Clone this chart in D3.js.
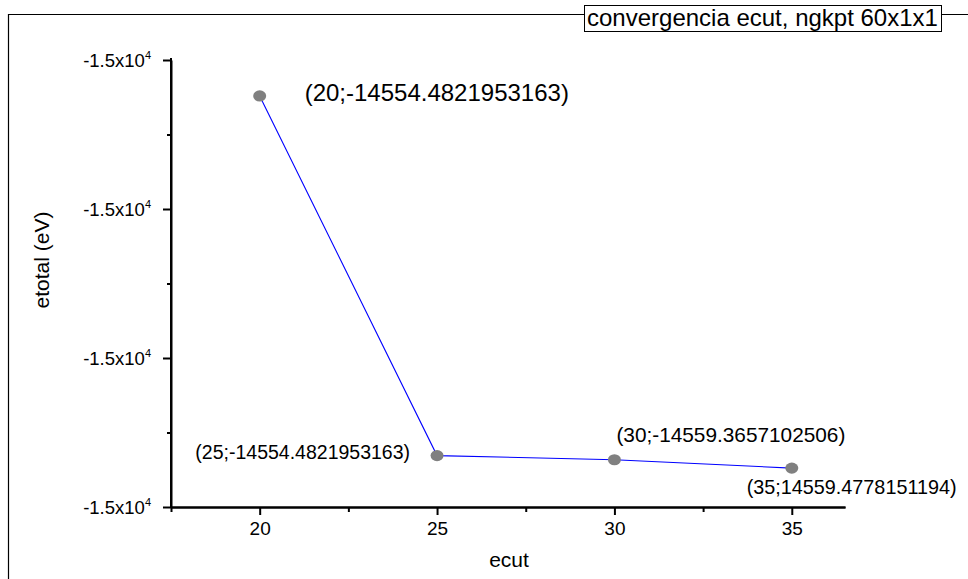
<!DOCTYPE html>
<html>
<head>
<meta charset="utf-8">
<script src="https://cdn.jsdelivr.net/npm/d3@7"></script>
<style>
  html, body { margin: 0; padding: 0; background: #fff; }
  svg { display: block; font-family: "Liberation Sans", Arial, sans-serif; }
</style>
</head>
<body>
<svg id="chart" width="968" height="579"></svg>
<script>
// ---- data ----
const ecut = [20, 25, 30, 35];
const etotal = [-14554.4822, -14559.31, -14559.3657, -14559.4778];
const pointLabels = [
  "(20;-14554.4821953163)",
  "(25;-14554.4821953163)",
  "(30;-14559.3657102506)",
  "(35;14559.4778151194)"
];
const xTicks = [20, 25, 30, 35];
const xMinorTicks = [17.5, 22.5, 27.5, 32.5];
const yTicks = [-14560, -14558, -14556, -14554];
const yMinorTicks = [-14559, -14557, -14555];
const yTickLabel = ["-1.5x10", "4"];
const legendText = "convergencia ecut, ngkpt 60x1x1";
const xTitle = "ecut";
const yTitle = "etotal (eV)";

// ---- layout ----
const svg = d3.select("#chart");
const x = d3.scaleLinear().domain([17.5, 36.5]).range([171, 845]);
const y = d3.scaleLinear().domain([-14560, -14554]).range([507, 60]);

// outer frame
svg.append("path")
  .attr("d", "M8.5,590 L8.5,14.5 L975,14.5")
  .attr("fill", "none").attr("stroke", "#000").attr("stroke-width", 1.2);

// legend box
svg.append("rect").attr("x", 584.5).attr("y", 5.5).attr("width", 357).attr("height", 26)
  .attr("fill", "#fff").attr("stroke", "#000").attr("stroke-width", 1);
svg.append("text").attr("x", 587).attr("y", 25.5).attr("font-size", 24)
  .attr("fill", "#000").text(legendText);

// x axis
const gx = svg.append("g").attr("transform", `translate(0,${y(-14560)})`);
gx.call(d3.axisBottom(x).tickValues(xTicks).tickSize(8).tickSizeOuter(0).tickFormat(""));
gx.append("g").call(d3.axisBottom(x).tickValues(xMinorTicks).tickSize(5).tickSizeOuter(0).tickFormat(""));
gx.selectAll("path,line").attr("stroke", "#000").attr("stroke-width", 2);
gx.selectAll(".tick").filter(function(){ return this.parentNode === gx.node(); })
  .append("text").attr("y", 28).attr("fill", "#000").attr("text-anchor", "middle")
  .attr("font-size", 19).text(d => d);

// y axis
const gy = svg.append("g").attr("transform", `translate(${x(17.5)},0)`);
gy.call(d3.axisLeft(y).tickValues(yTicks).tickSize(8).tickSizeOuter(0).tickFormat(""));
gy.append("g").call(d3.axisLeft(y).tickValues(yMinorTicks).tickSize(4).tickSizeOuter(0).tickFormat(""));
gy.select(".domain").attr("d", `M0,${y(-14554) - 2}V${y(-14560) + 1}`);
gy.selectAll("path,line").attr("stroke", "#000").attr("stroke-width", 2);
gy.selectAll(".tick").filter(function(){ return this.parentNode === gy.node(); })
  .each(function() {
    const t = d3.select(this).append("text").attr("x", -20).attr("y", 6)
      .attr("fill", "#000").attr("text-anchor", "end").attr("font-size", 18.5);
    t.append("tspan").text(yTickLabel[0]);
    t.append("tspan").attr("dy", -8).attr("font-size", 11).text(yTickLabel[1]);
  });

// axis titles
svg.append("text").attr("x", 509).attr("y", 567).attr("text-anchor", "middle")
  .attr("font-size", 21).attr("fill", "#000").text(xTitle);
svg.append("text").attr("transform", "translate(49,260) rotate(-90)")
  .attr("text-anchor", "middle").attr("font-size", 21).attr("fill", "#000").text(yTitle);

// line
const pts = ecut.map((d, i) => [d, etotal[i]]);
svg.append("path").datum(pts)
  .attr("d", d3.line().x(d => x(d[0])).y(d => y(d[1])))
  .attr("fill", "none").attr("stroke", "#0000ff").attr("stroke-width", 1.1);

// points
svg.selectAll("ellipse.pt").data(pts).enter().append("ellipse")
  .attr("class", "pt")
  .attr("cx", d => x(d[0])).attr("cy", d => y(d[1]))
  .attr("rx", 6.5).attr("ry", 5.6).attr("fill", "#808080");

// point labels
const labelStyle = [
  { dx: 45, dy: 5, size: 24, anchor: "start" },
  { dx: -27, dy: 3, size: 19.5, anchor: "end" },
  { dx: 2, dy: -18, size: 20.8, anchor: "start" },
  { dx: -45, dy: 26, size: 19.8, anchor: "start" }
];
svg.selectAll("text.lbl").data(pts).enter().append("text")
  .attr("class", "lbl")
  .attr("x", (d, i) => x(d[0]) + labelStyle[i].dx)
  .attr("y", (d, i) => y(d[1]) + labelStyle[i].dy)
  .attr("font-size", (d, i) => labelStyle[i].size)
  .attr("text-anchor", (d, i) => labelStyle[i].anchor)
  .attr("fill", "#000")
  .text((d, i) => pointLabels[i]);
</script>
</body>
</html>
